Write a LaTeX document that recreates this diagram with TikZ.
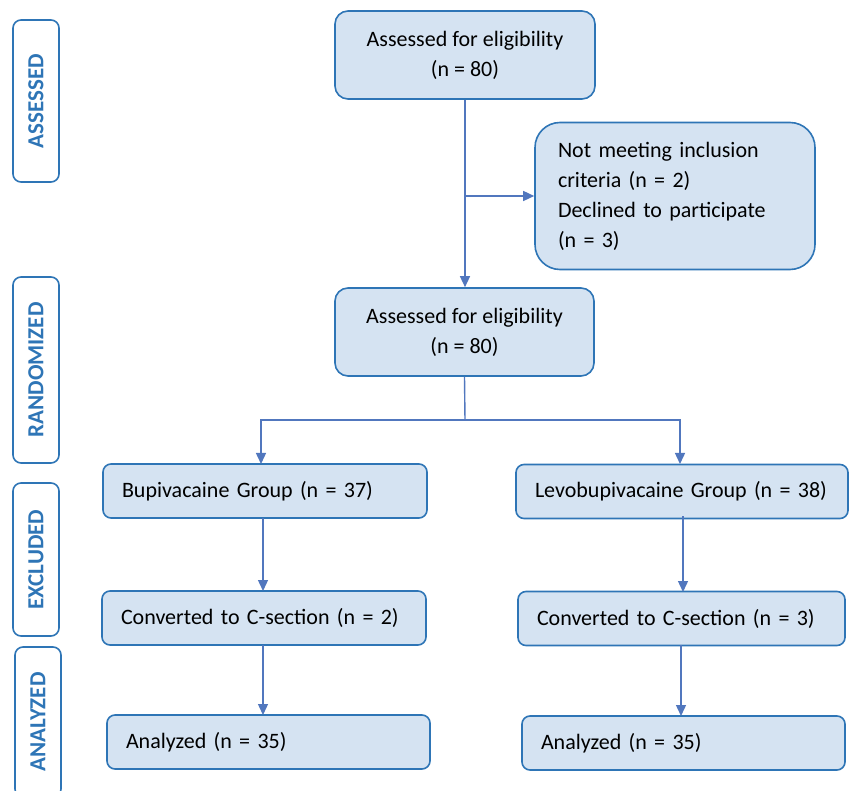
\documentclass[tikz,border=0pt]{standalone}
\usepackage{fontspec}
\setmainfont{Carlito}
\usetikzlibrary{arrows.meta}
\definecolor{boxfill}{HTML}{D5E3F2}
\definecolor{boxline}{HTML}{2E75B6}
\definecolor{flowline}{HTML}{5177BE}

\begin{document}
\begin{tikzpicture}[x=1pt,y=-1pt,
        box/.style={draw=boxline, fill=boxfill, line width=1.6pt, rounded corners=8pt,
            inner sep=0pt, font=\fontsize{22}{30}\selectfont},
        wide/.style={box, align=left, text width=#1-38pt, minimum width=#1, minimum height=54pt},
        stage/.style={draw=boxline, line width=1.6pt, rounded corners=8pt, inner sep=0pt,
            rotate=90, minimum height=46pt, text=boxline, font=\fontsize{23}{26}\selectfont\bfseries},
        flow/.style={draw=flowline, line width=1.4pt, -{Triangle[length=11pt,width=10pt]}}]
    \useasboundingbox (0,0) rectangle (849,791);
    \begin{scope}
        \clip (0,0) rectangle (849,791);
        % stages on the left
        \node [stage, minimum width=162pt] (assessed) at (36,101) {ASSESSED};
        \node [stage, minimum width=186pt] (randomized) at (36,370) {RANDOMIZED};
        \node [stage, minimum width=153pt] (excluded) at (36,559.5) {EXCLUDED};
        \node [stage, minimum width=150pt] (analyzed) at (38,722) {ANALYZED};
    \end{scope}
    % boxes
    \node [box, rounded corners=13pt, align=center, minimum width=260pt, minimum height=88pt]
        (elig) at (465,55) {Assessed for eligibility\\(n = 80)};
    \node [box, rounded corners=25pt, align=left, text width=234pt, minimum width=280pt, minimum height=147pt]
        (notmet) at (675,196) {Not meeting inclusion\\criteria (n = 2)\\Declined to participate\\(n = 3)};
    \node [box, rounded corners=13pt, align=center, minimum width=259pt, minimum height=88pt]
        (rand) at (464.5,332) {Assessed for eligibility\\(n = 80)};
    \node [wide=324pt] (bupi) at (265,491) {Bupivacaine Group (n = 37)};
    \node [wide=332pt] (levo) at (682,491.5) {\mbox{Levobupivacaine Group (n = 38)}};
    \node [wide=324pt] (convbupi) at (264,618) {Converted to C-section (n = 2)};
    \node [wide=327pt] (convlevo) at (681.5,618.5) {Converted to C-section (n = 3)};
    \node [wide=323pt] (analbupi) at (268.5,742) {Analyzed (n = 35)};
    \node [wide=323pt] (anallevo) at (683.5,743) {Analyzed (n = 35)};
    % connectors
    \coordinate (split) at (465,420);
    \draw [flow] (elig.south) -- (elig.south |- rand.north);
    \draw [flow] (elig.south |- notmet.west) -- (notmet.west);
    \draw [draw=flowline, line width=1.4pt] (rand.south) -- (split);
    \draw [flow] (split) -| (261,464);
    \draw [flow] (split) -| (680,464);
    \draw [flow] (263,518) -- (263,591);
    \draw [flow] (683,516) -- (683,592);
    \draw [flow] (263,645) -- (263,715);
    \draw [flow] (681,645) -- (681,716);
\end{tikzpicture}
\end{document}
